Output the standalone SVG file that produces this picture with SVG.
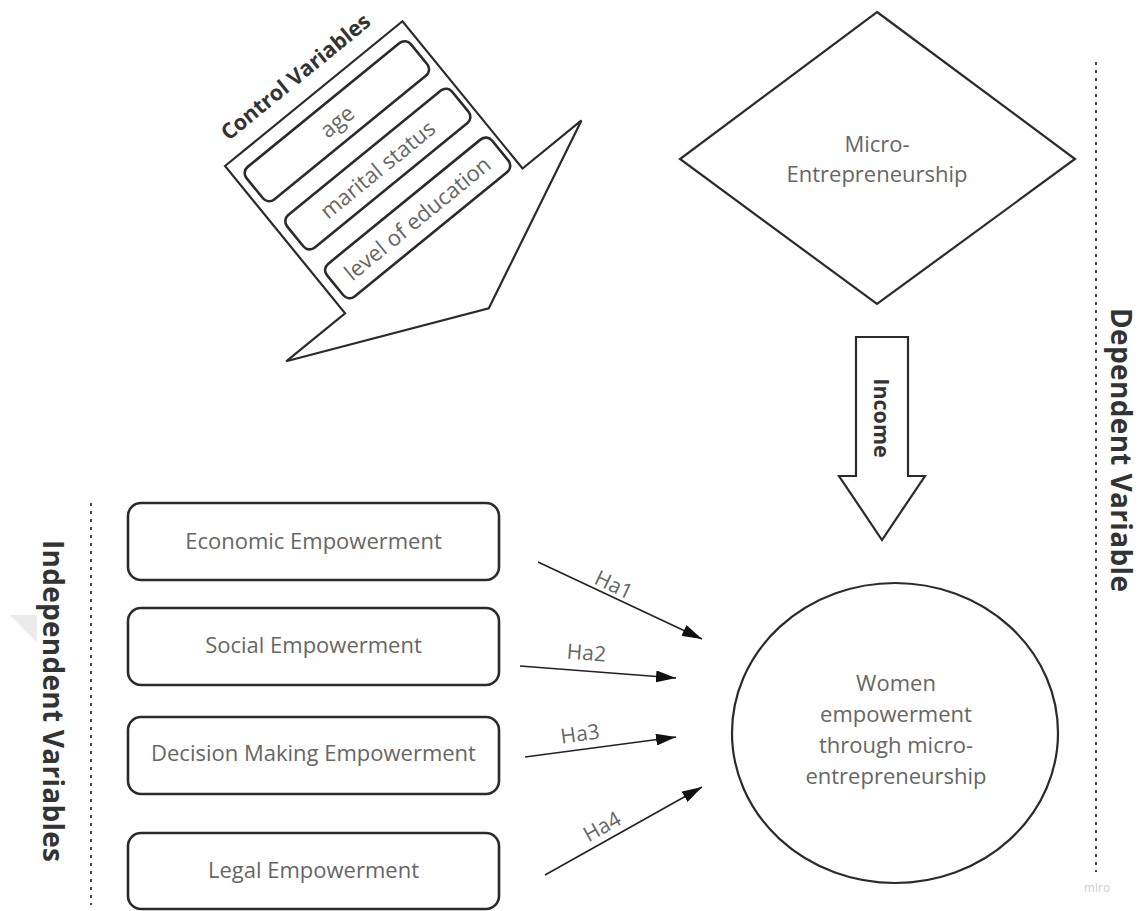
<svg xmlns="http://www.w3.org/2000/svg" width="1142" height="911" viewBox="0 0 1142 911">
<style>
.shape{fill:#fff;stroke:#2b2b2b;stroke-width:2.2}
.box{fill:#fff;stroke:#2b2b2b;stroke-width:2.6}
.lbl{font-family:"Open Sans","Liberation Sans",sans-serif;font-size:22px;fill:#666;text-anchor:middle}
.bold{font-family:"Open Sans","Liberation Sans",sans-serif;font-weight:bold;fill:#333;text-anchor:middle}
.dash{stroke:#444;stroke-width:2;stroke-dasharray:3 5;fill:none}
.conn{stroke:#222;stroke-width:1.6;fill:none;marker-end:url(#ah)}
.ha{font-family:"Open Sans","Liberation Sans",sans-serif;font-size:21px;fill:#666;text-anchor:middle}
</style>
<defs>
<marker id="ah" viewBox="0 0 20 12" markerUnits="userSpaceOnUse" markerWidth="20" markerHeight="12" refX="20" refY="6" orient="auto">
<path d="M0,0 L20,6 L0,12 z" fill="#111"/>
</marker>
</defs>
<rect width="1142" height="911" fill="#fff"/>
<polygon points="10,615 37,615 37,643" fill="#ececec"/>

<line class="dash" x1="91" y1="503" x2="91" y2="905"/>
<line class="dash" x1="1096" y1="62" x2="1096" y2="872"/>
<text x="1097" y="892" font-family="'Open Sans','Liberation Sans',sans-serif" font-size="12" fill="#cfcfcf" text-anchor="middle">miro</text>

<g id="control-variables" transform="translate(225,166) rotate(-39.2)">
<polygon class="shape" points="0,0 229,0 229,190 305,190 114.5,277 -76,190 0,190"/>
<text class="bold" x="111" y="-17" font-size="21.5">Control Variables</text>
<rect class="box" x="9" y="15" width="212" height="42" rx="8"/>
<text class="lbl" x="115" y="44" font-size="24">age</text>
<rect class="box" x="10" y="78" width="213" height="42" rx="8"/>
<text class="lbl" x="116" y="107" font-size="24">marital status</text>
<rect class="box" x="10" y="141" width="213" height="42" rx="8"/>
<text class="lbl" x="116" y="170" font-size="24">level of education</text>
</g>

<g id="micro-entrepreneurship">
<polygon class="shape" points="877,12 1075,159 877,304 680,159"/>
<text class="lbl" x="877" y="152" font-size="23">Micro-</text>
<text class="lbl" x="877" y="182" font-size="23">Entrepreneurship</text>
</g>

<g id="income">
<polygon class="shape" points="856,337 908,337 908,476 925,476 882,540 839,476 856,476"/>
<text class="bold" transform="translate(874,418) rotate(90)" font-size="21.5">Income</text>
</g>

<g id="dependent-variable">
<text class="bold" transform="translate(1111,450) rotate(90)" font-size="28" textLength="284">Dependent Variable</text>
</g>

<g id="independent-variables">
<text class="bold" transform="translate(43,701) rotate(90)" font-size="28" textLength="322">Independent Variables</text>
</g>

<g id="economic">
<rect class="box" x="128" y="503" width="371" height="77" rx="13"/>
<text class="lbl" x="313.5" y="549">Economic Empowerment</text>
</g>
<g id="social">
<rect class="box" x="128" y="608" width="371" height="77" rx="13"/>
<text class="lbl" x="313.5" y="653">Social Empowerment</text>
</g>
<g id="decision">
<rect class="box" x="128" y="717" width="371" height="77" rx="13"/>
<text class="lbl" x="313.5" y="761">Decision Making Empowerment</text>
</g>
<g id="legal">
<rect class="box" x="128" y="833" width="371" height="76" rx="13"/>
<text class="lbl" x="313.5" y="878">Legal Empowerment</text>
</g>

<g id="women-empowerment">
<ellipse class="shape" cx="895" cy="733" rx="163" ry="150"/>
<text class="lbl" x="896" y="691" font-size="23">Women</text>
<text class="lbl" x="896" y="722" font-size="23">empowerment</text>
<text class="lbl" x="896" y="753" font-size="23">through micro-</text>
<text class="lbl" x="896" y="784" font-size="23">entrepreneurship</text>
</g>

<g id="connectors">
<line class="conn" x1="538" y1="562" x2="702" y2="639"/>
<line class="conn" x1="520" y1="666" x2="676" y2="678"/>
<line class="conn" x1="525" y1="757" x2="676" y2="737"/>
<line class="conn" x1="545" y1="875" x2="702" y2="787"/>
<text class="ha" transform="translate(609,595) rotate(25.4)" y="-4">Ha1</text>
<text class="ha" transform="translate(585,671) rotate(4.6)" y="-11">Ha2</text>
<text class="ha" transform="translate(582,749) rotate(-7.6)" y="-8">Ha3</text>
<text class="ha" transform="translate(609,839) rotate(-29.2)" y="-7">Ha4</text>
</g>
</svg>
